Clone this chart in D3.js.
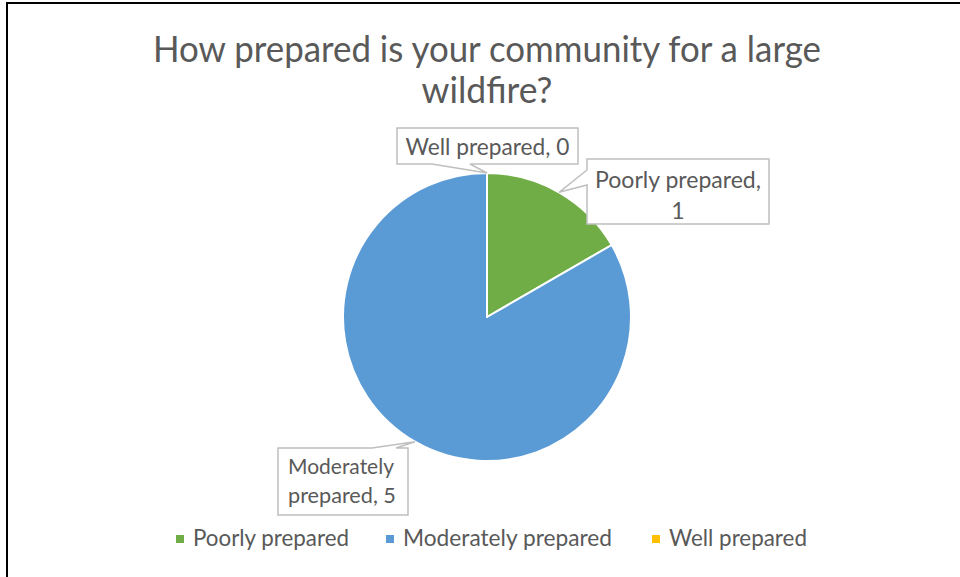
<!DOCTYPE html>
<html><head><meta charset="utf-8">
<script src="https://cdn.jsdelivr.net/npm/d3@7"></script>
<style>html,body{margin:0;padding:0;background:#fff;}svg{display:block;}</style>
</head><body>
<div id="chart"></div>
<script>
const titleLines = ["How prepared is your community for a large", "wildfire?"];
const categories = ["Poorly prepared", "Moderately prepared", "Well prepared"];
const values = [1, 5, 0];
const colors = ["#70AD47", "#5B9BD5", "#FFC000"];

const W = 960, H = 577;
const svg = d3.select("#chart").append("svg").attr("width", W).attr("height", H);
const FONT = "Lato, 'Open Sans', sans-serif";
const GRAY = "#595959";

// frame
svg.append("path").attr("d", `M7,${H} V3 H${W}`).attr("fill","none").attr("stroke","#000").attr("stroke-width",2);

function fit(sel, target) {
  sel.attr("font-size", 100);
  const w = sel.node().getComputedTextLength();
  sel.attr("font-size", 100 * target / w);
  return sel;
}

// title
const tWidths = [668, 131];
const tBase = [62, 103];
titleLines.forEach((t, i) => {
  const s = svg.append("text").attr("x", 487).attr("y", tBase[i]).attr("text-anchor","middle")
    .attr("font-family", FONT).attr("fill", GRAY).text(t);
  fit(s, tWidths[i]);
  s.attr("font-size", +s.attr("font-size") * 1.05)
   .attr("textLength", tWidths[i]).attr("lengthAdjust", "spacingAndGlyphs");
});

// pie
const cx = 487, cy = 317, R = 144;
const pie = d3.pie().sort(null).value(d => d.v);
const arcs = pie(categories.map((c, i) => ({c, v: values[i], col: colors[i]})));
const arc = d3.arc().innerRadius(0).outerRadius(R);
const g = svg.append("g").attr("transform", `translate(${cx},${cy})`);
g.selectAll("path").data(arcs).join("path")
  .attr("d", arc).attr("fill", d => d.data.col)
  .attr("stroke", "#fff").attr("stroke-width", 2).attr("stroke-linejoin","round");

// data label callouts
const boxes = [
  {i:0, x:587, y:159, w:182, h:65, side:"left", b1:170, b2:185,
   lines:[{t:"Poorly prepared,", w:166, y:188, anchor:"middle"},{t:"1", y:219, anchor:"middle"}]},
  {i:1, x:278, y:448, w:130, h:67, side:"top", b1:372, b2:396,
   lines:[{t:"Moderately", w:106, y:474, anchor:"start"},{t:"prepared, 5", w:108, y:503, anchor:"start"}]},
  {i:2, x:397, y:128, w:181, h:36, side:"bottom", b1:432, b2:470,
   lines:[{t:"Well prepared, 0", w:164, y:155, anchor:"middle"}]}
];
let labelSize = null;
boxes.forEach(b => {
  const a = arcs[b.i];
  const mid = (a.startAngle + a.endAngle) / 2;
  const tx = cx + R * Math.sin(mid), ty = cy - R * Math.cos(mid);
  let d;
  const x0=b.x, y0=b.y, x1=b.x+b.w, y1=b.y+b.h;
  if (b.side === "left") d = `M${x0},${y0} H${x1} V${y1} H${x0} V${b.b2} L${tx},${ty} L${x0},${b.b1} Z`;
  else if (b.side === "top") d = `M${x0},${y0} H${b.b1} L${tx},${ty} L${b.b2},${y0} H${x1} V${y1} H${x0} Z`;
  else d = `M${x0},${y0} H${x1} V${y1} H${b.b2} L${tx},${ty} L${b.b1},${y1} H${x0} Z`;
  svg.append("path").attr("d", d).attr("fill","#fff").attr("stroke","#BFBFBF").attr("stroke-width",1.5);
  b.lines.forEach(l => {
    const x = l.anchor === "middle" ? b.x + b.w/2 : b.x + 10;
    const t = svg.append("text").attr("x", x).attr("y", l.y).attr("text-anchor", l.anchor)
      .attr("font-family", FONT).attr("fill", GRAY).text(l.t);
    if (l.w) { fit(t, l.w); labelSize = +t.attr("font-size"); }
    else t.attr("font-size", labelSize);
  });
});

// legend
const legX = [176, 386, 652];
const legW = [156, 209, 138];
categories.forEach((c, i) => {
  svg.append("rect").attr("x", legX[i]).attr("y", 535).attr("width", 8).attr("height", 8).attr("fill", colors[i]);
  fit(svg.append("text").attr("x", legX[i] + 17).attr("y", 546).attr("font-family", FONT)
    .attr("fill", GRAY).text(c), legW[i]);
});
</script>
</body></html>
